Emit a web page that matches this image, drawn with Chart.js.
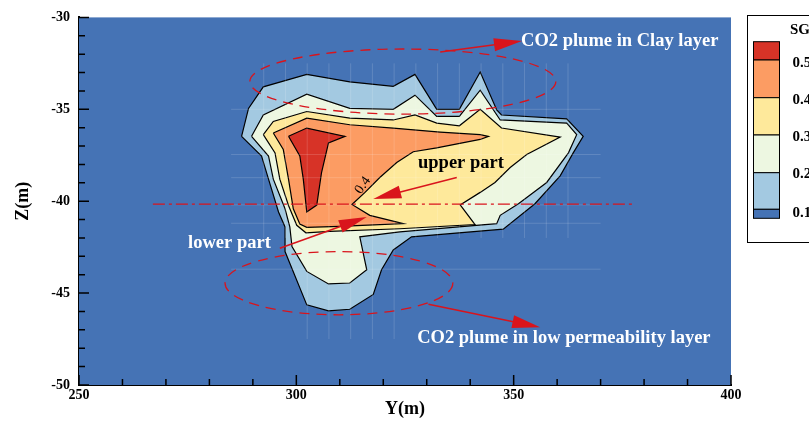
<!DOCTYPE html>
<html>
<head>
<meta charset="utf-8">
<script src="https://cdn.jsdelivr.net/npm/chart.js@4.4.1/dist/chart.umd.min.js"></script>
<style>
  html, body { margin: 0; padding: 0; background: #fff; }
  canvas { display: block; }
</style>
</head>
<body>
<canvas id="plume" width="809" height="423"></canvas>
<script>
const levels = ['0.5', '0.4', '0.3', '0.2', '0.1']
const levelColors = ['#d73327', '#fc9c63', '#fee99b', '#edf7e1', '#a3c9e1']
const baseColor = '#4573b5'
const yTicks = [250, 300, 350, 400]
const zTicks = [-30, -35, -40, -45, -50]

// contour outlines of SG, [Y(m), Z(m)]
const sg05 = [[298.2, -36.47], [302.4, -36.02], [311.2, -36.47], [307.4, -36.83], [305.8, -38.44],
  [304.7, -40.21], [302.4, -40.59], [301.6, -38.8], [300.8, -37.54]]
const sg04 = [[294.7, -36.29], [302.4, -35.48], [312.3, -35.84], [322.3, -36.02], [333.1, -36.24],
  [342.3, -36.38], [344.2, -36.47], [342.3, -36.64], [332.3, -37.1], [326.9, -37.31], [323.1, -37.9],
  [319.2, -38.71], [315.8, -39.52], [312.8, -40.18], [316.9, -40.77], [324.6, -41.22], [310.0, -41.37],
  [302.4, -41.42], [300.8, -41.24], [299.3, -40.41], [298.2, -38.8], [297.0, -37.19]]
const sg03 = [[292.4, -36.38], [294.7, -35.66], [302.4, -35.12], [312.3, -35.48], [322.3, -35.58],
  [327.3, -35.31], [332.3, -35.75], [337.5, -35.9], [342.3, -35.0], [347.2, -36.02], [360.7, -36.51],
  [353.0, -37.46], [349.2, -38.17], [345.7, -38.98], [342.3, -39.52], [337.7, -40.2], [341.1, -41.27],
  [323.8, -41.5], [307.7, -41.64], [302.2, -41.72], [300.1, -41.31], [298.2, -40.23], [296.2, -38.8],
  [295.1, -37.37]]
const sg02 = [[289.7, -36.47], [292.4, -35.31], [302.4, -34.18], [312.3, -34.95], [322.3, -35.0],
  [327.3, -34.23], [332.3, -35.39], [337.5, -35.39], [342.3, -33.96], [346.9, -35.58], [362.2, -35.75],
  [364.5, -36.38], [362.6, -37.37], [357.6, -38.98], [351.1, -40.14], [346.9, -40.77], [346.1, -41.22],
  [323.8, -41.67], [314.6, -41.94], [316.2, -43.73], [312.3, -44.45], [307.4, -44.5], [302.4, -43.82],
  [299.0, -42.47], [298.5, -41.4], [297.4, -40.41], [294.7, -38.8], [293.6, -37.54]]
const sg01 = [[287.4, -36.47], [289.0, -34.95], [292.4, -33.78], [302.4, -33.1], [312.3, -33.51],
  [322.3, -33.75], [327.3, -33.1], [332.3, -35.0], [337.5, -35.0], [342.3, -32.97], [346.1, -35.04],
  [347.2, -35.31], [362.2, -35.52], [366.0, -36.47], [363.7, -37.37], [360.7, -38.62], [354.9, -40.14],
  [347.6, -41.52], [326.5, -41.94], [322.3, -42.65], [319.6, -43.73], [317.7, -45.07], [312.3, -45.88],
  [307.4, -45.97], [302.4, -45.64], [297.4, -42.74], [297.4, -41.4], [295.9, -40.59], [293.6, -38.8],
  [292.0, -37.54]]
const contours = [sg05, sg04, sg03, sg02, sg01]

// faint mesh lines of the simulation grid
const meshY = [292.5, 297.5, 302.5, 307.5, 312.5, 317.5, 322.5, 327.5, 332.5, 337.5, 342.5, 347.5, 352.5, 357.5, 362.5]
const meshZ = [-35.0, -37.46, -38.72, -40.2, -41.2, -43.7]

const serif = '"Liberation Serif", "Times New Roman", serif'
const red = '#d9141c'

const toPoints = pts => pts.concat([pts[0]]).map(([x, y]) => ({ x, y }))

const datasets = contours.map((pts, i) => ({
  label: levels[i],
  data: toPoints(pts),
  showLine: true,
  fill: 'shape',
  backgroundColor: levelColors[i],
  borderColor: '#000',
  borderWidth: 1.2,
  pointRadius: 0,
  tension: 0,
}))

// red markup drawn on top of the plot
const drawArrow = (ctx, x1, y1, x2, y2) => {
  const a = Math.atan2(y2 - y1, x2 - x1)
  ctx.strokeStyle = red
  ctx.fillStyle = red
  ctx.lineWidth = 1.5
  ctx.setLineDash([])
  ctx.beginPath()
  ctx.moveTo(x1, y1)
  ctx.lineTo(x2 - 20 * Math.cos(a), y2 - 20 * Math.sin(a))
  ctx.stroke()
  ctx.save()
  ctx.translate(x2, y2)
  ctx.rotate(a)
  ctx.beginPath()
  ctx.moveTo(0, 0)
  ctx.lineTo(-28, -6.5)
  ctx.lineTo(-28, 6.5)
  ctx.closePath()
  ctx.fill()
  ctx.restore()
}

const markup = {
  id: 'markup',
  beforeDatasetsDraw(chart) {
    const { ctx, chartArea: a } = chart
    ctx.save()
    ctx.fillStyle = baseColor
    ctx.fillRect(a.left, a.top, a.right - a.left, a.bottom - a.top)
    ctx.restore()
  },
  afterDatasetsDraw(chart) {
    const { ctx } = chart
    const sx = chart.scales.x, sy = chart.scales.y
    const X = v => sx.getPixelForValue(v)
    const Y = v => sy.getPixelForValue(v)
    ctx.save()

    // mesh
    ctx.strokeStyle = 'rgba(255,255,255,0.15)'
    ctx.lineWidth = 1
    ctx.beginPath()
    meshY.forEach(v => {
      const bottom = v >= 302 && v <= 323 ? -47.5 : -42
      ctx.moveTo(X(v), Y(-32.5))
      ctx.lineTo(X(v), Y(bottom))
    })
    meshZ.forEach(v => {
      ctx.moveTo(X(285), Y(v))
      ctx.lineTo(X(370), Y(v))
    })
    ctx.stroke()

    // dashed ellipses
    ctx.strokeStyle = red
    ctx.lineWidth = 1.3
    ctx.setLineDash([10, 7])
    ;[[324.5, -33.49, 35.2, 1.77], [309.8, -44.46, 26.2, 1.72]].forEach(([cx, cz, rx, rz]) => {
      ctx.beginPath()
      ctx.ellipse(X(cx), Y(cz), X(cx + rx) - X(cx), Y(cz - rz) - Y(cz), 0, 0, Math.PI * 2)
      ctx.stroke()
    })

    // dash-dot section line
    ctx.setLineDash([12, 4, 3, 4])
    ctx.beginPath()
    ctx.moveTo(X(267), Y(-40.16))
    ctx.lineTo(X(377.5), Y(-40.16))
    ctx.stroke()

    drawArrow(ctx, X(333.1), Y(-31.88), X(351.9), Y(-31.29))
    drawArrow(ctx, X(336.9), Y(-38.71), X(317.7), Y(-39.88))
    drawArrow(ctx, X(296.2), Y(-42.56), X(316.2), Y(-40.86))
    drawArrow(ctx, X(330.4), Y(-45.61), X(356.1), Y(-46.86))

    ctx.font = `bold 18.5px ${serif}`
    ctx.textBaseline = 'middle'
    ctx.textAlign = 'left'
    ctx.fillStyle = '#fff'
    ctx.fillText('CO2 plume in Clay layer', X(351.7), Y(-31.29))
    ctx.fillText('lower part', X(275.1), Y(-42.26))
    ctx.fillText('CO2 plume in low permeability layer', X(327.8), Y(-47.47))
    ctx.fillStyle = '#000'
    ctx.fillText('upper part', X(328.0), Y(-37.96))

    // contour label
    ctx.save()
    ctx.translate(X(315.3), Y(-39.14))
    ctx.rotate(-0.95)
    ctx.font = `14px ${serif}`
    ctx.textAlign = 'center'
    ctx.fillText('0.4', 0, 0)
    ctx.restore()

    ctx.restore()
  },
  afterDraw(chart) {
    const { ctx, chartArea: a } = chart
    const sx = chart.scales.x, sy = chart.scales.y
    ctx.save()
    ctx.strokeStyle = '#000'
    ctx.lineWidth = 1.5
    ctx.beginPath()
    for (let v = 250; v <= 400; v += 10) {
      const p = sx.getPixelForValue(v)
      ctx.moveTo(p, a.bottom)
      ctx.lineTo(p, a.bottom - (v % 50 === 0 ? 10 : 6))
    }
    for (let v = -50; v <= -30; v += 1) {
      const p = sy.getPixelForValue(v)
      ctx.moveTo(a.left, p)
      ctx.lineTo(a.left + (v % 5 === 0 ? 10 : 6), p)
    }
    ctx.stroke()

    // colour legend
    ctx.lineWidth = 1
    ctx.strokeRect(747.5, 15.5, 90, 227)
    const edges = [41.7, 60, 97.7, 135, 172.7, 209.3, 218.3]
    const swatches = levelColors.concat([baseColor])
    swatches.forEach((c, i) => {
      ctx.fillStyle = c
      ctx.fillRect(753.5, edges[i], 26, edges[i + 1] - edges[i])
      ctx.strokeRect(753.5, edges[i], 26, edges[i + 1] - edges[i])
    })
    ctx.fillStyle = '#000'
    ctx.font = `bold 15px ${serif}`
    ctx.textBaseline = 'middle'
    ctx.textAlign = 'left'
    ctx.fillText('SG', 790, 30)
    const labelY = [63, 100, 137, 174, 213]
    levels.forEach((t, i) => ctx.fillText(t, 792.5, labelY[i]))
    ctx.restore()
  },
}

new Chart(document.getElementById('plume'), {
  type: 'scatter',
  data: { datasets },
  plugins: [markup],
  options: {
    responsive: false,
    animation: false,
    layout: { padding: { top: 13, right: 78, left: 0, bottom: 0 } },
    plugins: { legend: { display: false }, tooltip: { enabled: false } },
    scales: {
      x: {
        type: 'linear',
        min: 250,
        max: 400,
        afterBuildTicks: s => { s.ticks = yTicks.map(value => ({ value })) },
        afterFit: s => { s.height = 38 },
        grid: { display: false, drawTicks: false },
        border: { display: true, color: '#000', width: 2 },
        ticks: { color: '#000', padding: 2, font: { family: serif, size: 14, weight: 'bold' } },
        title: { display: true, text: 'Y(m)', color: '#000', padding: { bottom: 3 },
          font: { family: serif, size: 18, weight: 'bold' } },
      },
      y: {
        type: 'linear',
        min: -50,
        max: -30,
        afterBuildTicks: s => { s.ticks = zTicks.map(value => ({ value })) },
        afterFit: s => { s.width = 79 },
        grid: { display: false, drawTicks: false },
        border: { display: true, color: '#000', width: 2 },
        ticks: { color: '#000', padding: 9, font: { family: serif, size: 14, weight: 'bold' } },
        title: { display: true, text: 'Z(m)', color: '#000', padding: { top: 13 },
          font: { family: serif, size: 18, weight: 'bold' } },
      },
    },
  },
})
</script>
</body>
</html>
